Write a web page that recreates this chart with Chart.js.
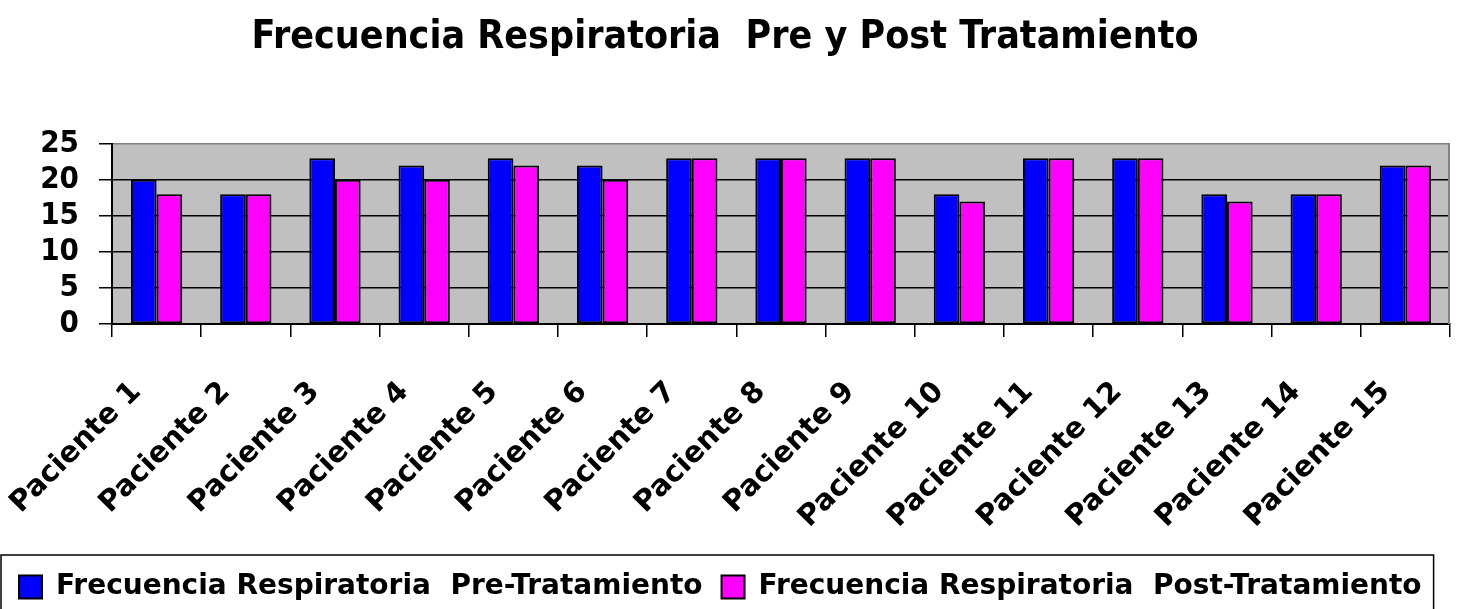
<!DOCTYPE html>
<html>
<head>
<meta charset="utf-8">
<script src="https://cdn.jsdelivr.net/npm/chart.js@4/dist/chart.umd.min.js"></script>
<style>
  html, body { margin: 0; padding: 0; background: #fff; }
  #wrap { width: 1460px; height: 609px; }
</style>
</head>
<body>
<div id="wrap"><canvas id="frChart" width="1460" height="609"></canvas></div>
<script>
// datos del gráfico
const pacientes = ['Paciente 1', 'Paciente 2', 'Paciente 3', 'Paciente 4', 'Paciente 5',
  'Paciente 6', 'Paciente 7', 'Paciente 8', 'Paciente 9', 'Paciente 10',
  'Paciente 11', 'Paciente 12', 'Paciente 13', 'Paciente 14', 'Paciente 15'];
const preTratamiento = [20, 18, 23, 22, 23, 22, 23, 23, 23, 18, 23, 23, 18, 18, 22];
const postTratamiento = [18, 18, 20, 20, 22, 20, 23, 23, 23, 17, 23, 23, 17, 18, 22];
const yTicks = [0, 5, 10, 15, 20, 25];

const narrow = "'DejaVu Sans Condensed', 'DejaVu Sans', sans-serif";
const wide = "'DejaVu Sans', sans-serif";

// fondo gris del área de trazado, borde derecho y marco de la leyenda
const plotArea = {
  id: 'plotArea',
  beforeDraw(chart) {
    const a = chart.chartArea, ctx = chart.ctx;
    ctx.save();
    ctx.fillStyle = '#C0C0C0';
    ctx.fillRect(a.left, a.top, a.right - a.left, a.bottom - a.top);
    ctx.restore();
  },
  afterDraw(chart) {
    const a = chart.chartArea, ctx = chart.ctx;
    ctx.save();
    ctx.strokeStyle = '#808080';
    ctx.lineWidth = 2;
    ctx.beginPath();
    ctx.moveTo(a.right - 1, a.top);
    ctx.lineTo(a.right - 1, a.bottom);
    ctx.stroke();
    const boxes = chart.legend.legendHitBoxes;
    if (boxes && boxes.length) {
      const first = boxes[0], last = boxes[boxes.length - 1];
      const x0 = first.left - 18, x1 = last.left + last.width + 12;
      ctx.strokeStyle = '#000';
      ctx.lineWidth = 1.5;
      ctx.strokeRect(x0, 555, x1 - x0, 80);
    }
    ctx.restore();
  }
};

const ctx = document.getElementById('frChart').getContext('2d');
new Chart(ctx, {
  type: 'bar',
  data: {
    labels: pacientes,
    datasets: [{
      label: 'Frecuencia Respiratoria  Pre-Tratamiento',
      data: preTratamiento,
      backgroundColor: '#0000FF',
      borderColor: '#000',
      borderWidth: 2,
      borderSkipped: false
    }, {
      label: 'Frecuencia Respiratoria  Post-Tratamiento',
      data: postTratamiento,
      backgroundColor: '#FF00FF',
      borderColor: '#000',
      borderWidth: 2,
      borderSkipped: false
    }]
  },
  options: {
    responsive: false,
    animation: false,
    layout: { padding: { left: 0, right: 10, top: 0, bottom: -2 } },
    datasets: { bar: { barPercentage: 1, categoryPercentage: 0.575 } },
    scales: {
      x: {
        grid: { offset: true, drawOnChartArea: false, drawTicks: true, tickLength: 13, color: '#000', lineWidth: 1.5 },
        border: { color: '#000', width: 2 },
        ticks: {
          autoSkip: false, minRotation: 45, maxRotation: 45, padding: 38, labelOffset: -20,
          color: '#000', font: { family: wide, size: 29, weight: 'bold' }
        },
        afterFit(scale) {
          scale.height = 230;
          scale.paddingLeft = 0;
          scale.paddingRight = 0;
        }
      },
      y: {
        min: 0, max: 25,
        afterBuildTicks(scale) { scale.ticks = yTicks.map(v => ({ value: v })); },
        grid: {
          color: c => (c.tick && c.tick.value === 25 ? '#808080' : '#000'),
          tickColor: '#000', tickLength: 13, lineWidth: 1.5
        },
        border: { color: '#000', width: 2 },
        ticks: { autoSkip: false, padding: 20, color: '#000', font: { family: narrow, size: 31, weight: 'bold' } },
        afterFit(scale) { scale.width = 112; }
      }
    },
    plugins: {
      title: {
        display: true,
        text: 'Frecuencia Respiratoria  Pre y Post Tratamiento',
        color: '#000',
        font: { family: narrow, size: 39, weight: 'bold', lineHeight: 1.2 },
        padding: { top: 14, bottom: 83 }
      },
      legend: {
        position: 'bottom',
        align: 'start',
        labels: {
          boxWidth: 23, boxHeight: 23, padding: 19, color: '#000',
          font: { family: wide, size: 28, weight: 'bold', lineHeight: 1.2 }
        }
      },
      tooltip: { enabled: false }
    }
  },
  plugins: [plotArea]
});
</script>
</body>
</html>
